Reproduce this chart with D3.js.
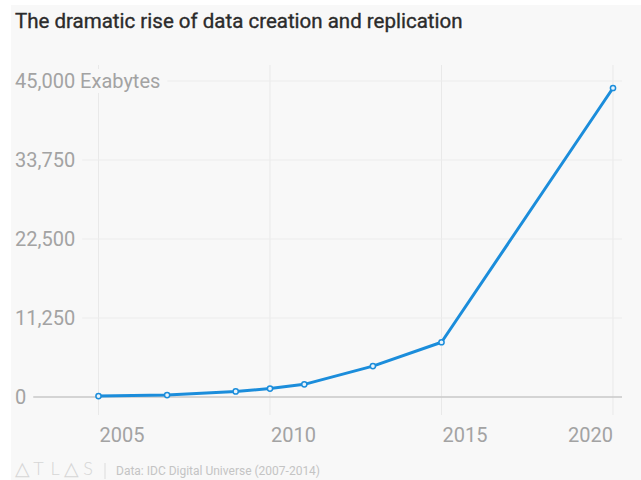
<!DOCTYPE html>
<html><head><meta charset="utf-8">
<script src="https://cdn.jsdelivr.net/npm/d3@7"></script>
<style>html,body{margin:0;padding:0;background:#fff;}svg{display:block;}</style>
</head><body>
<script>
const years = [2005, 2007, 2009, 2010, 2011, 2013, 2015, 2020];
const exabytes = [130, 281, 800, 1200, 1800, 4400, 7800, 44000];
const yTicks = [0, 11250, 22500, 33750, 45000];
const xTicks = [2005, 2010, 2015, 2020];
const titleText = "The dramatic rise of data creation and replication";
const sourceText = "Data: IDC Digital Universe (2007-2014)";
const logoLetters = ["\u25B3", "T", "L", "\u25B3", "S"];

const W = 641, H = 480;
const svg = d3.select("body").append("svg").attr("width", W).attr("height", H);
svg.append("rect").attr("x", 11).attr("y", 5).attr("width", W - 11).attr("height", H - 5).attr("fill", "#f8f8f8");

const x = d3.scaleLinear().domain([2005, 2020]).range([98.5, 613]);
const y = d3.scaleLinear().domain([0, 45000]).range([397, 81]);
const font = "Roboto, 'Noto Sans', sans-serif";

svg.append("text").attr("x", 15).attr("y", 28).attr("font-family", font).attr("font-weight", 400)
  .attr("font-size", 20.5).attr("fill", "#2b2b2b").attr("stroke", "#2b2b2b").attr("stroke-width", 0.35)
  .text(titleText);

// vertical gridlines
svg.append("g").selectAll("line").data(xTicks).join("line")
  .attr("x1", d => x(d)).attr("x2", d => x(d)).attr("y1", 65).attr("y2", 415)
  .attr("stroke", "#e9e9e9").attr("stroke-width", 1);

// horizontal gridlines + labels
const yg = svg.append("g");
yTicks.forEach(v => {
  const label = v === 45000 ? d3.format(",")(v) + " Exabytes" : d3.format(",")(v);
  const bg = yg.append("rect").attr("fill", "#f8f8f8");
  const t = yg.append("text").attr("x", 15).attr("y", y(v)).attr("dy", "0.36em")
    .attr("font-family", font).attr("font-size", 20).attr("fill", "#a3a3a3").text(label);
  const w = t.node().getComputedTextLength();
  bg.attr("x", 12).attr("y", y(v) - 12).attr("width", w + 8).attr("height", 24);
  yg.insert("line", "rect").attr("x1", 15 + w + 7).attr("x2", 622).attr("y1", y(v)).attr("y2", y(v))
    .attr("stroke", v === 0 ? "#c8c8c8" : "#ececec").attr("stroke-width", v === 0 ? 1.5 : 1);
});

// x labels
svg.append("g").selectAll("text").data(xTicks).join("text")
  .attr("x", (d, i) => i === xTicks.length - 1 ? x(d) : x(d) + 1)
  .attr("y", 442).attr("text-anchor", (d, i) => i === xTicks.length - 1 ? "end" : "start")
  .attr("font-family", font).attr("font-size", 20).attr("fill", "#a3a3a3").text(d => d);

// line
const data = years.map((yr, i) => ({yr, v: exabytes[i]}));
svg.append("path").datum(data)
  .attr("d", d3.line().x(d => x(d.yr)).y(d => y(d.v)))
  .attr("fill", "none").attr("stroke", "#1b8ddb").attr("stroke-width", 3).attr("stroke-linejoin", "round");
svg.append("g").selectAll("circle").data(data).join("circle")
  .attr("cx", d => x(d.yr)).attr("cy", d => y(d.v)).attr("r", 2.6)
  .attr("fill", "#e8f3fb").attr("stroke", "#1b8ddb").attr("stroke-width", 1.5);

// footer
svg.append("g").selectAll("text").data(logoLetters).join("text")
  .attr("x", (d, i) => 22 + i * 16.5).attr("y", 475).attr("text-anchor", "middle")
  .attr("font-family", d => d === "\u25B3" ? "'DejaVu Sans', sans-serif" : "Lato, Roboto, sans-serif")
  .attr("font-size", d => d === "\u25B3" ? 19 : 18).attr("font-weight", 300)
  .attr("fill", "#d6d6d6").text(d => d);
svg.append("line").attr("x1", 105).attr("x2", 105).attr("y1", 463).attr("y2", 479).attr("stroke", "#dcdcdc");
svg.append("text").attr("x", 116).attr("y", 475).attr("font-family", font).attr("font-size", 12)
  .attr("fill", "#c4c4c4").text(sourceText);
</script>
</body></html>
